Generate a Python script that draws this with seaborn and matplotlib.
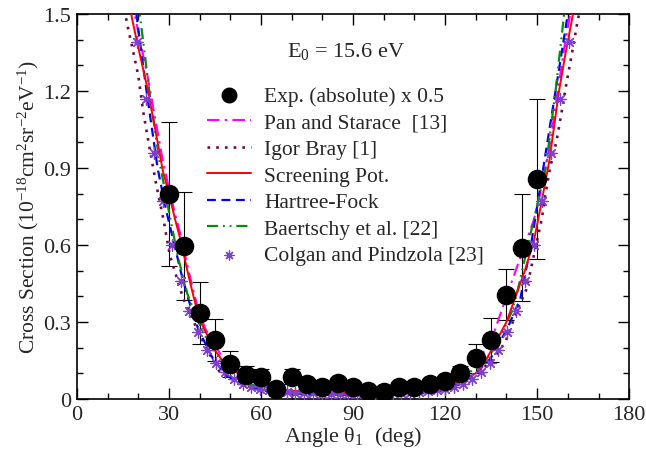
import matplotlib
matplotlib.use("Agg")
import matplotlib.pyplot as plt
from matplotlib.ticker import MultipleLocator
import numpy as np
import pandas as pd
import seaborn as sb

sb.set_style("ticks")
plt.rcParams['font.family'] = ['Liberation Serif', 'DejaVu Serif']
plt.rcParams['mathtext.fontset'] = 'custom'
plt.rcParams['mathtext.rm'] = 'Liberation Serif'
plt.rcParams['mathtext.it'] = 'Liberation Serif:italic'
plt.rcParams['mathtext.default'] = 'regular'

# experiment (absolute) x 0.5
exp_ang = [30, 35, 40, 45, 50, 55, 60, 65, 70, 75, 80, 85, 90, 95, 100,
           105, 110, 115, 120, 125, 130, 135, 140, 145, 150]
exp_cs = [0.80, 0.595, 0.335, 0.23, 0.137, 0.095, 0.087, 0.04, 0.087, 0.058,
          0.048, 0.062, 0.047, 0.032, 0.028, 0.047, 0.047, 0.058, 0.071, 0.10,
          0.158, 0.23, 0.406, 0.59, 0.857]
exp_err = [0.28, 0.21, 0.12, 0.08, 0.05, 0.035, 0.03, 0.0, 0.03, 0.0,
           0.0, 0.0, 0.0, 0.0, 0.0, 0.0, 0.0, 0.0, 0.015, 0.03,
           0.055, 0.085, 0.10, 0.21, 0.31]

# Pan and Starace [13]
pan_ang = [16, 18, 20, 23, 26, 28, 30, 32, 34, 36, 38, 40, 42, 45, 48, 50, 55, 60, 65, 70,
           80, 90, 100, 110, 115, 120, 125, 130, 133, 136, 140, 143, 146, 149, 151, 154,
           157, 159, 162, 164]
pan_cs = [1.70, 1.55, 1.43, 1.26, 1.06, 0.93, 0.82, 0.72, 0.63, 0.52, 0.42, 0.33, 0.27,
          0.21, 0.15, 0.125, 0.088, 0.06, 0.042, 0.032, 0.025, 0.023, 0.025, 0.035,
          0.045, 0.065, 0.10, 0.145, 0.19, 0.26, 0.40, 0.50, 0.60, 0.70, 0.80, 0.98,
          1.22, 1.38, 1.58, 1.72]

# Igor Bray [1]
bray_ang = [15, 16.4, 18.4, 20, 21.6, 23.8, 25.8, 28.2, 30.3, 34.7, 38.5, 42.3, 46.6, 52,
            58, 65, 75, 90, 105, 115, 122, 129.2, 134.7, 139.6, 143.3, 146.6, 149.3,
            151.5, 152.6, 154.2, 156.4, 158, 159.7, 161.4, 163, 164.5]
bray_cs = [1.55, 1.46, 1.35, 1.26, 1.12, 0.97, 0.84, 0.70, 0.56, 0.39, 0.29, 0.195,
           0.104, 0.065, 0.04, 0.025, 0.018, 0.016, 0.018, 0.025, 0.045, 0.09, 0.143,
           0.22, 0.34, 0.43, 0.58, 0.70, 0.79, 0.90, 1.01, 1.12, 1.24, 1.35, 1.46, 1.55]

# Screening Pot.
scr_ang = [16, 18, 20, 23, 26, 28, 30, 32, 34, 36, 38, 40, 42, 45, 48, 50, 55, 60, 65, 70,
           80, 90, 100, 110, 115, 120, 125, 130, 133, 136, 140, 143, 146, 149, 151, 154,
           157, 159, 162, 164]
scr_cs = [1.63, 1.48, 1.37, 1.21, 1.02, 0.89, 0.80, 0.70, 0.61, 0.50, 0.40, 0.31, 0.26,
          0.19, 0.14, 0.12, 0.08, 0.055, 0.04, 0.032, 0.026, 0.024, 0.025, 0.03, 0.038,
          0.05, 0.07, 0.10, 0.145, 0.21, 0.30, 0.40, 0.50, 0.62, 0.74, 0.93, 1.19, 1.33,
          1.52, 1.65]

# Hartree-Fock
hf_ang = [18, 19.4, 21, 22.7, 26.3, 29, 31.4, 34, 36.3, 39.6, 44.4, 48.8, 55.3, 60, 70,
          80, 90, 100, 110, 118.4, 125, 130.3, 134.7, 140.1, 144.5, 148, 152, 156, 160,
          161.5]
hf_cs = [1.62, 1.5, 1.35, 1.2, 0.9, 0.74, 0.62, 0.49, 0.39, 0.27, 0.156, 0.09, 0.052,
         0.035, 0.022, 0.017, 0.016, 0.017, 0.022, 0.032, 0.058, 0.104, 0.156, 0.27,
         0.39, 0.6, 0.9, 1.2, 1.5, 1.62]

# Baertschy et al. [22]
bae_ang = [18, 20.5, 23.6, 27, 30, 33, 36, 38.5, 41.7, 47.2, 52, 57, 62, 70, 80, 90, 100,
           110, 118, 123, 128, 131.5, 134.7, 136.9, 139.5, 141.7, 143.4, 147, 152.8, 156,
           158.8, 160.5]
bae_cs = [1.68, 1.5, 1.2, 0.92, 0.73, 0.55, 0.41, 0.33, 0.247, 0.143, 0.085, 0.055, 0.04,
          0.028, 0.022, 0.02, 0.021, 0.027, 0.04, 0.06, 0.105, 0.13, 0.17, 0.22, 0.28,
          0.34, 0.41, 0.6, 0.9, 1.2, 1.5, 1.65]

# Colgan and Pindzola [23]
col_ang = [19.5, 22.4, 25.2, 28.1, 31.0, 33.9, 36.7, 39.6, 42.5, 45.4, 48.2, 51.1, 54.0,
           56.9, 59.7, 62.6, 65.5, 68.4, 71.2, 74.1, 77.0, 79.9, 82.7, 85.6, 88.5, 91.4,
           94.2, 97.1, 100.0, 102.9, 105.7, 108.6, 111.5, 114.4, 117.2, 120.1, 123.0,
           125.9, 128.7, 131.6, 134.5, 137.4, 140.2, 143.1, 146.0, 148.9, 151.7, 154.6,
           157.5, 160.4]
col_cs = [1.39, 1.17, 0.96, 0.77, 0.60, 0.46, 0.344, 0.26, 0.19, 0.14, 0.104, 0.078, 0.06,
          0.048, 0.04, 0.034, 0.03, 0.027, 0.025, 0.023, 0.022, 0.021, 0.02, 0.02, 0.02,
          0.02, 0.02, 0.02, 0.021, 0.022, 0.023, 0.025, 0.027, 0.03, 0.034, 0.04, 0.048,
          0.06, 0.078, 0.104, 0.14, 0.19, 0.26, 0.344, 0.46, 0.60, 0.77, 0.96, 1.17, 1.39]

fig = plt.figure(figsize=(6.46, 4.52), dpi=100)
ax = fig.add_axes([0.119, 0.115, 0.855, 0.852])

# error bars first, under the dots
err_idx = [i for i, e in enumerate(exp_err) if e > 0]
ax.errorbar([exp_ang[i] for i in err_idx], [exp_cs[i] for i in err_idx],
            yerr=[exp_err[i] for i in err_idx], fmt='none', ecolor='black',
            elinewidth=0.8, capsize=5.5, capthick=0.8, zorder=2)

sb.lineplot(x=pan_ang, y=pan_cs, ax=ax, color='#ff00ff', lw=1.5, sort=False,
            linestyle=(0, (6, 2.5, 1.2, 2.5)), label='Pan and Starace  [13]', zorder=3)
sb.lineplot(x=bray_ang, y=bray_cs, ax=ax, color='#6b0a4a', lw=1.9, sort=False,
            linestyle=(0, (1, 2.3)), label='Igor Bray [1]', zorder=3)
sb.lineplot(x=scr_ang, y=scr_cs, ax=ax, color='#ff0000', lw=1.4, sort=False,
            label='Screening Pot.', zorder=4)
sb.lineplot(x=hf_ang, y=hf_cs, ax=ax, color='#0000ff', lw=1.6, sort=False,
            linestyle=(0, (4, 2.5)), label='Hartree-Fock', zorder=3)
sb.lineplot(x=bae_ang, y=bae_cs, ax=ax, color='#0b8a0b', lw=1.6, sort=False,
            linestyle=(0, (5, 2.2, 0.8, 2.2, 0.8, 2.2)), label='Baertschy et al. [22]',
            zorder=3)
sb.scatterplot(x=col_ang, y=col_cs, ax=ax, color='#7f3fcf', marker=(8, 2, 0), s=65,
               linewidth=0.9, edgecolor='#7f3fcf', label='Colgan and Pindzola [23]',
               zorder=5)
sb.scatterplot(x=exp_ang, y=exp_cs, ax=ax, color='black', s=170, edgecolor='black',
               label='Exp. (absolute) x 0.5', zorder=6)

handles, labels = ax.get_legend_handles_labels()
order = ['Exp. (absolute) x 0.5', 'Pan and Starace  [13]', 'Igor Bray [1]',
         'Screening Pot.', 'Hartree-Fock', 'Baertschy et al. [22]',
         'Colgan and Pindzola [23]']
hmap = dict(zip(labels, handles))
ax.legend([hmap[k] for k in order], order, loc='upper left',
          bbox_to_anchor=(0.22, 0.835), frameon=False, fontsize=15.5,
          handlelength=2.05, handletextpad=0.6, labelspacing=0.3,
          borderaxespad=0, markerscale=0.8)

ax.text(0.487, 0.905, 'E$_0$ = 15.6 eV', transform=ax.transAxes, fontsize=16,
        ha='center', va='center')

ax.set_xlim(0, 180)
ax.set_ylim(0, 1.5)
ax.xaxis.set_major_locator(MultipleLocator(30))
ax.xaxis.set_minor_locator(MultipleLocator(10))
ax.yaxis.set_major_locator(MultipleLocator(0.3))
ax.yaxis.set_minor_locator(MultipleLocator(0.1))
ax.set_xticks([0, 30, 60, 90, 120, 150, 180])
ax.set_xticklabels(['0', '30', '60', '90', '120', '150', '180'])
ax.set_yticks([0, 0.3, 0.6, 0.9, 1.2, 1.5])
ax.set_yticklabels(['0', '0.3', '0.6', '0.9', '1.2', '1.5'])
ax.tick_params(which='both', direction='in', top=True, right=True, labelsize=16,
               color='black', width=1.0, pad=4)
ax.tick_params(which='major', length=8)
ax.tick_params(which='minor', length=4)
for sp in ax.spines.values():
    sp.set_linewidth(1.2)
    sp.set_color('black')

ax.set_xlabel('Angle θ$_1$  (deg)', fontsize=16, labelpad=0)
ax.set_ylabel('Cross Section (10$^{-18}$cm$^{2}$sr$^{-2}$eV$^{-1}$)', fontsize=15.5,
              labelpad=2)

plt.savefig('out.png', dpi=100)
